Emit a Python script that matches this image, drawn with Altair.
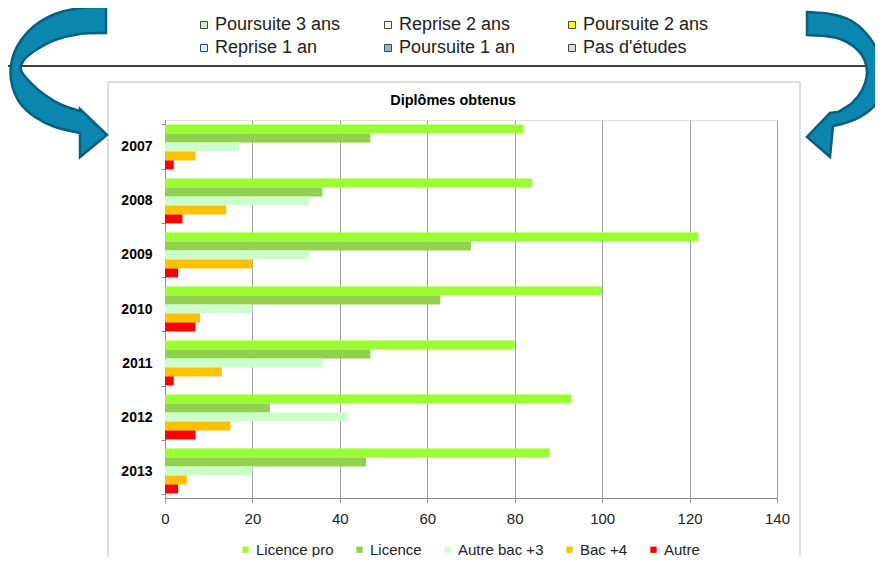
import altair as alt
import pandas as pd

# ---------------- data ----------------
years = ["2007", "2008", "2009", "2010", "2011", "2012", "2013"]
series = ["Licence pro", "Licence", "Autre bac +3", "Bac +4", "Autre"]
licence_pro = [82, 84, 122, 100, 80, 93, 88]
licence = [47, 36, 70, 63, 47, 24, 46]
autre_bac3 = [17, 33, 33, 20, 36, 42, 20]
bac4 = [7, 14, 20, 8, 13, 15, 5]
autre = [2, 4, 3, 7, 2, 7, 3]
series_colors = ["#99FF33", "#92D050", "#CCFFCC", "#FFC000", "#FF0000"]
x_ticks = [0, 20, 40, 60, 80, 100, 120, 140]

top_legend_labels = ["Poursuite 3 ans", "Reprise 2 ans", "Poursuite 2 ans",
                     "Reprise 1 an", "Poursuite 1 an", "Pas d'études"]
top_legend_colors = ["#CCF2CC", "#FFFFE0", "#FFFF00", "#DDEBF7", "#8EB4E3", "#D9D9D9"]
title_text = "Diplômes obtenus"

FONT = "Liberation Sans"

values_by_series = [licence_pro, licence, autre_bac3, bac4, autre]
rows = []
for s, vals in zip(series, values_by_series):
    for y, v in zip(years, vals):
        rows.append({"year": y, "series": s, "value": v})
df = pd.DataFrame(rows)
one = pd.DataFrame({"a": [0]})
df_top = pd.DataFrame({"name": top_legend_labels})

# ---------------- decorative arrows (svg path symbols) ----------------
def smooth(pts):
    out = []
    n = len(pts)
    for i in range(n - 1):
        p0 = pts[i - 1] if i > 0 else pts[i]
        p1 = pts[i]
        p2 = pts[i + 1]
        p3 = pts[i + 2] if i + 2 < n else pts[i + 1]
        c1 = (p1[0] + (p2[0] - p0[0]) / 6, p1[1] + (p2[1] - p0[1]) / 6)
        c2 = (p2[0] - (p3[0] - p1[0]) / 6, p2[1] - (p3[1] - p1[1]) / 6)
        out.append(("C", c1, c2, p2))
    return out

def arrow_path(outer, head, inner, cx, cy, s):
    def f(p):
        return f"{(p[0]-cx)/s:.4f} {(p[1]-cy)/s:.4f}"
    d = "M " + f(outer[0])
    for _, c1, c2, p in smooth(outer):
        d += f" C {f(c1)} {f(c2)} {f(p)}"
    for p in head:
        d += " L " + f(p)
    d += " L " + f(inner[0])
    for _, c1, c2, p in smooth(inner):
        d += f" C {f(c1)} {f(c2)} {f(p)}"
    return d + " Z"

S = 80
left_outer = [(106, 7), (80, 8), (55, 14), (33, 27), (18, 45), (11, 65), (12, 85),
              (20, 103), (35, 117), (55, 127), (80, 133)]
left_head = [(80, 157), (107, 135), (80, 109)]
left_inner = [(80, 111), (62, 105), (45, 95), (30, 82), (21, 70), (24, 60),
              (36, 50), (55, 40), (80, 34), (106, 33)]
left_d = arrow_path(left_outer, left_head, left_inner, 60, 82, S)

right_outer = [(807, 12), (830, 14), (850, 20), (866, 33), (877, 50), (883, 70),
               (882, 90), (875, 105), (860, 117), (845, 123), (833, 126)]
right_head = [(830, 157), (807, 137), (830, 113)]
right_inner = [(838, 112), (852, 103), (862, 90), (867, 73), (863, 57),
               (853, 46), (840, 39), (825, 36), (807, 35)]
right_d = arrow_path(right_outer, right_head, right_inner, 845, 85, S)

# ---------------- layers ----------------
frame = alt.Chart(one).mark_rect(fillOpacity=0, stroke="#BFBFBF", strokeWidth=1).encode(
    x=alt.value(-57), x2=alt.value(635), y=alt.value(-38), y2=alt.value(480))

hline = alt.Chart(one).mark_rule(color="black", strokeWidth=1.6).encode(
    x=alt.value(-165), x2=alt.value(720), y=alt.value(-54))

bars = alt.Chart(df).mark_bar().encode(
    x=alt.X("value:Q", scale=alt.Scale(domain=[0, 140], nice=False),
            axis=alt.Axis(values=x_ticks, grid=True, gridColor="#A0A0A0", domainColor="#8C8C8C",
                          tickColor="#8C8C8C", tickSize=4, labelFontSize=15, labelFont=FONT,
                          labelColor="#222", labelPadding=9, labelFlush=False, title=None)),
    y=alt.Y("year:N", sort=years, scale=alt.Scale(paddingInner=0.1667, paddingOuter=0.0833),
            axis=alt.Axis(title=None, tickBand="extent", tickSize=4, domainColor="#8C8C8C",
                          tickColor="#8C8C8C", labelFontSize=14, labelFontWeight="bold",
                          labelFont=FONT, labelColor="#000", labelPadding=9, grid=False)),
    yOffset=alt.YOffset("series:N", sort=series, scale=alt.Scale(paddingInner=0, paddingOuter=0)),
    color=alt.Color("series:N", scale=alt.Scale(domain=series, range=series_colors),
                    legend=alt.Legend(title=None, orient="none", legendX=73, legendY=422,
                                      direction="horizontal", symbolType="square", symbolSize=40,
                                      labelFontSize=15, labelFont=FONT, labelColor="#222",
                                      columnPadding=18, labelOffset=3, padding=0,
                                      symbolStrokeWidth=0)),
)

title_mark = alt.Chart(one).mark_text(text=title_text, font=FONT, fontSize=14.5, fontWeight="bold",
                                      color="#000", align="center", baseline="middle").encode(
    x=alt.value(288), y=alt.value(-19))

dummy = alt.Chart(df_top).mark_square(size=49, opacity=1).encode(
    x=alt.value(-3000), y=alt.value(-3000),
    fill=alt.Fill("name:N", scale=alt.Scale(domain=top_legend_labels, range=top_legend_colors),
                  legend=alt.Legend(title=None, orient="none", legendX=30, legendY=-104,
                                    direction="horizontal", columns=3, gridAlign="all",
                                    symbolType="square", symbolSize=49, symbolStrokeColor="#444",
                                    symbolStrokeWidth=1, labelFontSize=18, labelFont=FONT,
                                    labelColor="#222", columnPadding=38, rowPadding=5,
                                    labelOffset=2, padding=0)),
)

arrow_left = alt.Chart(one).mark_point(shape=left_d, filled=True, size=(2 * S) ** 2, opacity=1,
                                       fill="#0B86AE", stroke="#075F7D", strokeWidth=2.5).encode(
    x=alt.value(60 - 165), y=alt.value(82 - 120))
arrow_right = alt.Chart(one).mark_point(shape=right_d, filled=True, size=(2 * S) ** 2, opacity=1,
                                        fill="#0B86AE", stroke="#075F7D", strokeWidth=2.5).encode(
    x=alt.value(845 - 165), y=alt.value(85 - 120))

chart = alt.layer(frame, hline, bars, title_mark, dummy, arrow_left, arrow_right).properties(
    width=612, height=378,
    padding={"left": 157, "top": 112, "right": 98, "bottom": 59},
    autosize=alt.AutoSizeParams(type="none"),
).configure_view(strokeWidth=0).configure(font=FONT)

chart.save("out.html", embed_options={"renderer": "svg", "actions": False})
